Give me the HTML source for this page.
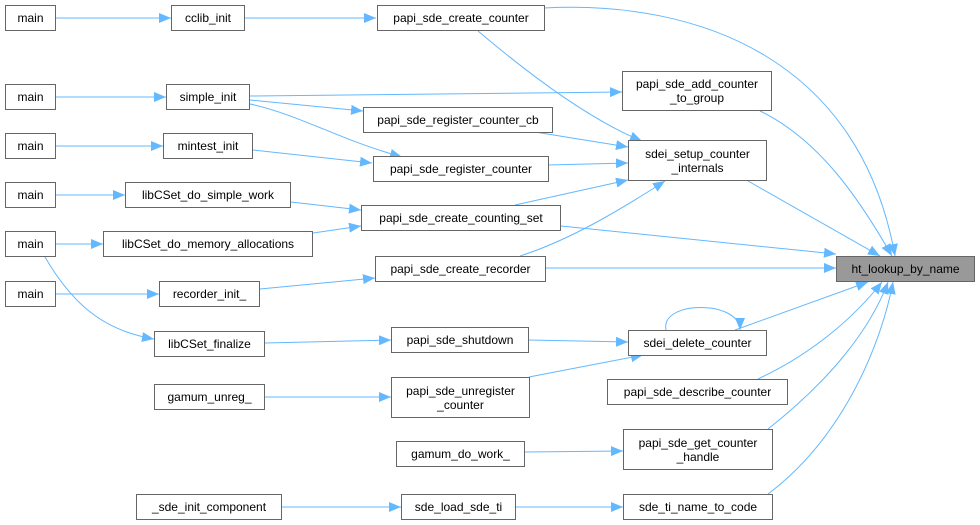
<!DOCTYPE html>
<html><head><meta charset="utf-8"><style>
html,body{margin:0;padding:0;background:#fff;}
body{width:980px;height:525px;position:relative;overflow:hidden;font-family:"Liberation Sans",Helvetica,Arial,sans-serif;}
.n{position:absolute;box-sizing:border-box;border:1px solid #666;background:#fff;font-size:12px;color:#000;display:flex;align-items:center;justify-content:center;text-align:center;line-height:14px;white-space:nowrap;}
.g{background:#999;}
svg{position:absolute;left:0;top:0;}
</style></head><body>
<svg width="980" height="525" viewBox="0 0 980 525">
<defs><marker id="a" markerUnits="userSpaceOnUse" markerWidth="13" markerHeight="11" refX="12" refY="5.5" orient="auto"><path d="M0,0.5 L12,5.5 L0,10.5 Z" fill="#63b8ff"/></marker></defs>
<g fill="none" stroke="#63b8ff" stroke-width="1" marker-end="url(#a)">
<path d="M56,18 L171,18"/>
<path d="M245,18 L376,18"/>
<path d="M544,8 C700,0 860,60 895,256"/>
<path d="M478,31 C530,75 590,120 642,141"/>
<path d="M56,97 L166,97"/>
<path d="M250,96 L622,92"/>
<path d="M250,100 L363,111"/>
<path d="M250,104 C300,115 340,140 402,157"/>
<path d="M56,146 L163,146"/>
<path d="M253,150 L372,163"/>
<path d="M56,195 L125,195"/>
<path d="M291,202 L361,210"/>
<path d="M56,244 L103,244"/>
<path d="M313,233 L361,226"/>
<path d="M45,257 C70,300 100,330 154,339"/>
<path d="M535,132 L628,147"/>
<path d="M548,165 L628,163"/>
<path d="M515,205 L628,180"/>
<path d="M520,256 C570,240 620,210 665,181"/>
<path d="M760,111 C820,140 860,200 892,256"/>
<path d="M748,181 L880,256"/>
<path d="M561,226 L836,254"/>
<path d="M545,268 L836,268"/>
<path d="M56,294 L159,294"/>
<path d="M260,289 L375,278"/>
<path d="M265,343 L391,340"/>
<path d="M529,340 L628,342"/>
<path d="M666,330 C660,300 740,300 740,330"/>
<path d="M735,330 L868,282"/>
<path d="M529,377 L643,355"/>
<path d="M265,397 L391,397"/>
<path d="M758,379 C820,350 860,310 882,282"/>
<path d="M525,452 L623,451"/>
<path d="M768,429 C830,380 870,330 888,282"/>
<path d="M768,494 C840,440 880,350 893,282"/>
<path d="M282,507 L401,507"/>
<path d="M516,507 L623,507"/>
</g>
</svg>
<div class="n" style="left:5px;top:5px;width:51px;height:26px">main</div>
<div class="n" style="left:171px;top:5px;width:74px;height:26px">cclib_init</div>
<div class="n" style="left:377px;top:5px;width:168px;height:26px">papi_sde_create_counter</div>
<div class="n" style="left:5px;top:84px;width:51px;height:26px">main</div>
<div class="n" style="left:166px;top:84px;width:84px;height:26px">simple_init</div>
<div class="n" style="left:622px;top:71px;width:150px;height:40px">papi_sde_add_counter<br>_to_group</div>
<div class="n" style="left:363px;top:107px;width:190px;height:26px">papi_sde_register_counter_cb</div>
<div class="n" style="left:5px;top:133px;width:51px;height:26px">main</div>
<div class="n" style="left:163px;top:133px;width:90px;height:26px">mintest_init</div>
<div class="n" style="left:373px;top:156px;width:176px;height:26px">papi_sde_register_counter</div>
<div class="n" style="left:628px;top:140px;width:139px;height:41px">sdei_setup_counter<br>_internals</div>
<div class="n" style="left:5px;top:182px;width:51px;height:26px">main</div>
<div class="n" style="left:125px;top:182px;width:166px;height:26px">libCSet_do_simple_work</div>
<div class="n" style="left:361px;top:205px;width:200px;height:26px">papi_sde_create_counting_set</div>
<div class="n" style="left:5px;top:231px;width:51px;height:26px">main</div>
<div class="n" style="left:103px;top:231px;width:210px;height:26px">libCSet_do_memory_allocations</div>
<div class="n" style="left:375px;top:256px;width:171px;height:26px">papi_sde_create_recorder</div>
<div class="n g" style="left:836px;top:256px;width:139px;height:26px">ht_lookup_by_name</div>
<div class="n" style="left:5px;top:281px;width:51px;height:26px">main</div>
<div class="n" style="left:159px;top:281px;width:101px;height:26px">recorder_init_</div>
<div class="n" style="left:154px;top:331px;width:111px;height:26px">libCSet_finalize</div>
<div class="n" style="left:391px;top:327px;width:138px;height:26px">papi_sde_shutdown</div>
<div class="n" style="left:628px;top:330px;width:139px;height:26px">sdei_delete_counter</div>
<div class="n" style="left:154px;top:384px;width:111px;height:26px">gamum_unreg_</div>
<div class="n" style="left:391px;top:377px;width:139px;height:41px">papi_sde_unregister<br>_counter</div>
<div class="n" style="left:607px;top:379px;width:181px;height:26px">papi_sde_describe_counter</div>
<div class="n" style="left:396px;top:441px;width:129px;height:26px">gamum_do_work_</div>
<div class="n" style="left:623px;top:429px;width:150px;height:41px">papi_sde_get_counter<br>_handle</div>
<div class="n" style="left:136px;top:494px;width:146px;height:26px">_sde_init_component</div>
<div class="n" style="left:401px;top:494px;width:115px;height:26px">sde_load_sde_ti</div>
<div class="n" style="left:623px;top:494px;width:150px;height:26px">sde_ti_name_to_code</div>
</body></html>
